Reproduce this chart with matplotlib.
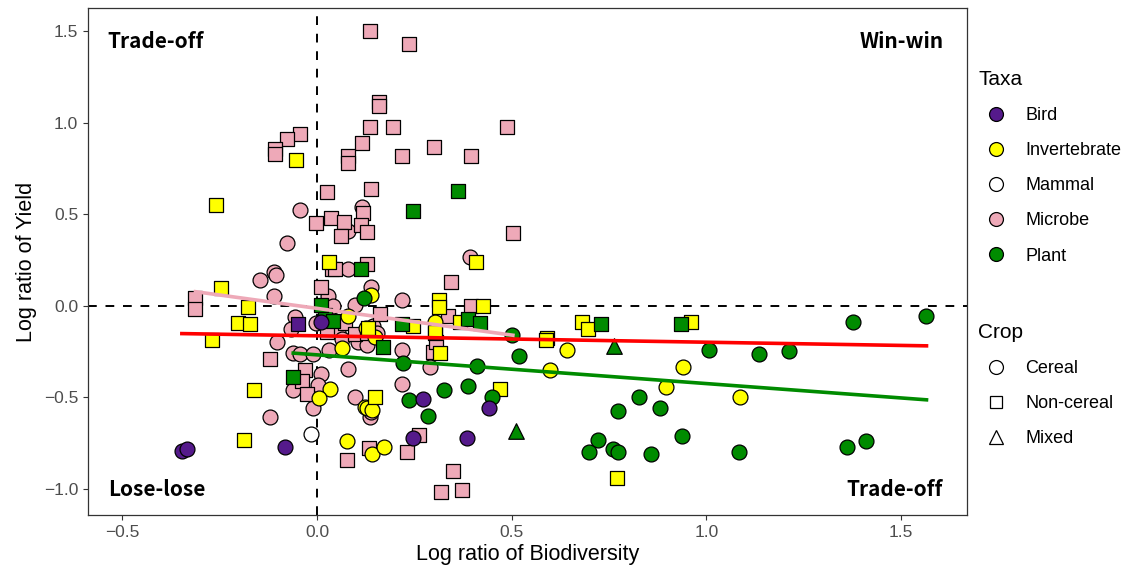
import matplotlib
matplotlib.use("Agg")
import matplotlib.pyplot as plt
from matplotlib.lines import Line2D

plt.rcParams["font.family"] = ["Liberation Sans", "DejaVu Sans"]

# ---- data (x = log ratio biodiversity, y = log ratio yield)
microbe_sq_x = [0.136, 0.235, 0.158, 0.158, 0.135, 0.194, 0.489, 0.116, 0.30, 0.08, 0.08, 0.218,
                0.395, -0.043, -0.077, -0.109, -0.109, 0.026, 0.138, 0.118, -0.002, 0.037, 0.069,
                0.062, 0.112, 0.129, 0.039, 0.045, 0.129, -0.312, -0.312, 0.011, 0.503, 0.344,
                0.395, 0.161, 0.071, 0.337, 0.026, 0.098, 0.128, -0.121, -0.031, -0.039, -0.026,
                0.297, 0.306, 0.263, 0.23, 0.076, 0.134, 0.35, 0.318, 0.373]
microbe_sq_y = [1.50, 1.43, 1.115, 1.09, 0.98, 0.98, 0.98, 0.89, 0.87, 0.82, 0.78, 0.82,
                0.82, 0.94, 0.915, 0.86, 0.83, 0.62, 0.64, 0.51, 0.455, 0.48, 0.46,
                0.385, 0.44, 0.406, 0.20, 0.20, 0.228, 0.042, -0.018, 0.105, 0.40, 0.13,
                0.0, -0.044, -0.095, -0.053, -0.14, -0.153, -0.149, -0.291, -0.35, -0.408, -0.482,
                -0.253, -0.195, -0.705, -0.80, -0.84, -0.778, -0.90, -1.018, -1.005]

microbe_ci_x = [-0.043, 0.116, 0.08, -0.077, 0.08, -0.11, -0.105, -0.146, -0.11, 0.027, 0.138,
                0.097, 0.041, -0.057, -0.066, -0.003, 0.144, 0.393, 0.219, -0.103, 0.055, 0.106,
                0.063, -0.061, -0.044, -0.011, 0.031, 0.08, 0.01, 0.003, -0.061, 0.098, -0.009,
                -0.121, 0.135, 0.139, 0.128, 0.217, 0.29, 0.217, 0.153]
microbe_ci_y = [0.525, 0.54, 0.41, 0.343, 0.204, 0.184, 0.17, 0.142, 0.055, 0.055, 0.105,
                0.005, 0.0, -0.058, -0.127, -0.091, -0.107, 0.27, 0.033, -0.195, -0.14, -0.195,
                -0.182, -0.255, -0.264, -0.264, -0.24, -0.344, -0.372, -0.432, -0.459, -0.496, -0.559,
                -0.608, -0.605, -0.578, -0.213, -0.24, -0.332, -0.428, -0.149]

invert_sq_x = [-0.053, -0.259, 0.030, 0.407, -0.247, -0.177, -0.203, -0.173, 0.312, 0.312, 0.425,
               0.246, 0.303, 0.59, 0.367, -0.27, -0.163, 0.15, -0.187, 0.47, 0.68, 0.697, 0.96,
               0.588, 0.77, 0.316, 0.303, 0.131]
invert_sq_y = [0.80, 0.55, 0.242, 0.24, 0.097, -0.007, -0.091, -0.10, 0.033, -0.007, 0.0,
               -0.109, -0.149, -0.177, -0.086, -0.186, -0.459, -0.495, -0.732, -0.454, -0.089, -0.126, -0.089,
               -0.186, -0.94, -0.259, -0.14, -0.12]

invert_ci_x = [0.08, 0.139, 0.303, 0.063, 0.033, 0.005, 0.123, 0.077, 0.141, 0.172, 0.128, 0.141,
               0.597, 0.641, 0.941, 0.895, 1.087, 0.127, 0.149]
invert_ci_y = [-0.053, 0.06, -0.086, -0.228, -0.455, -0.505, -0.552, -0.736, -0.806, -0.772, -0.555, -0.57,
               -0.35, -0.24, -0.335, -0.444, -0.50, -0.122, -0.168]

plant_sq_x = [0.363, 0.246, 0.112, 0.021, 0.041, 0.01, 0.217, 0.389, 0.419, 0.17, -0.061, 0.728, 0.934]
plant_sq_y = [0.63, 0.52, 0.204, -0.049, -0.08, 0.005, -0.098, -0.073, -0.095, -0.226, -0.389, -0.098, -0.098]

plant_ci_x = [0.121, 0.50, 0.222, 0.41, 0.519, 0.235, 0.326, 0.389, 0.449, 0.286, 1.007, 1.134,
              1.213, 1.375, 1.565, 0.827, 0.772, 0.881, 0.722, 0.699, 0.761, 0.772, 0.857, 0.936,
              1.084, 1.36, 1.409]
plant_ci_y = [0.042, -0.158, -0.312, -0.328, -0.272, -0.516, -0.459, -0.435, -0.496, -0.60, -0.24, -0.262,
              -0.244, -0.086, -0.053, -0.50, -0.572, -0.559, -0.732, -0.796, -0.781, -0.80, -0.809, -0.71,
              -0.80, -0.772, -0.738]

plant_tri_x = [0.511, 0.763]
plant_tri_y = [-0.683, -0.219]

bird_ci_x = [-0.347, -0.334, -0.083, 0.273, 0.442, 0.246, 0.384, 0.01]
bird_ci_y = [-0.792, -0.78, -0.772, -0.508, -0.559, -0.723, -0.72, -0.09]
bird_sq_x = [-0.049]
bird_sq_y = [-0.098]

mammal_ci_x = [-0.015]
mammal_ci_y = [-0.70]

# fitted lines: (intercept, slope)
fit_all = (-0.163, -0.035)
fit_plant = (-0.267, -0.157)
fit_microbe = (-0.013, -0.292)

taxa = ["Bird", "Invertebrate", "Mammal", "Microbe", "Plant"]
taxa_colors = ["#551A8B", "#FFFF00", "#FFFFFF", "#EEA9B8", "#008B00"]
crops = ["Cereal", "Non-cereal", "Mixed"]
crop_markers = ["o", "s", "^"]

col = dict(zip(taxa, taxa_colors))
mk = dict(zip(crops, crop_markers))

fig = plt.figure(figsize=(11.27, 5.72), dpi=100)
ax = fig.add_axes([88 / 1127, 1 - 515 / 572, (967 - 88) / 1127, (515 - 8) / 572])

ax.axvline(0, color="black", lw=1.4, ls=(0, (4.5, 4.5)), zorder=1)
ax.axhline(0, color="black", lw=1.4, ls=(0, (4.5, 4.5)), zorder=1)

groups = [
    (microbe_ci_x, microbe_ci_y, "Microbe", "Cereal"),
    (microbe_sq_x, microbe_sq_y, "Microbe", "Non-cereal"),
    (invert_ci_x, invert_ci_y, "Invertebrate", "Cereal"),
    (invert_sq_x, invert_sq_y, "Invertebrate", "Non-cereal"),
    (plant_sq_x, plant_sq_y, "Plant", "Non-cereal"),
    (plant_ci_x, plant_ci_y, "Plant", "Cereal"),
    (plant_tri_x, plant_tri_y, "Plant", "Mixed"),
    (bird_sq_x, bird_sq_y, "Bird", "Non-cereal"),
    (bird_ci_x, bird_ci_y, "Bird", "Cereal"),
    (mammal_ci_x, mammal_ci_y, "Mammal", "Cereal"),
]
for gx, gy, t, c in groups:
    size = {"o": 115, "s": 90, "^": 125}[mk[c]]
    ax.scatter(gx, gy, s=size, marker=mk[c], facecolor=col[t], edgecolor="black",
               linewidth=0.9, zorder=3)


def draw_fit(fit, xs, color):
    x0, x1 = min(xs), max(xs)
    ax.plot([x0, x1], [fit[0] + fit[1] * x0, fit[0] + fit[1] * x1], color=color, lw=2.6, zorder=4)


all_x = [v for g in groups for v in g[0]]
draw_fit(fit_all, all_x, "#FF0000")
draw_fit(fit_plant, plant_ci_x + plant_sq_x + plant_tri_x, "#008B00")
draw_fit(fit_microbe, microbe_ci_x + microbe_sq_x, "#EEA9B8")

ax.set_xlim(-0.588, 1.669)
ax.set_ylim(-1.142, 1.628)
ax.set_xticks([-0.5, 0, 0.5, 1.0, 1.5])
ax.set_yticks([-1.0, -0.5, 0, 0.5, 1.0, 1.5])
ax.set_xticklabels(["\u22120.5", "0.0", "0.5", "1.0", "1.5"])
ax.set_yticklabels(["\u22121.0", "\u22120.5", "0.0", "0.5", "1.0", "1.5"])
ax.tick_params(colors="#333333", labelcolor="#4D4D4D", labelsize=12.5, length=3.5, width=0.8)
for s in ax.spines.values():
    s.set_color("#333333")
    s.set_linewidth(0.9)
ax.set_xlabel("Log ratio of Biodiversity", fontsize=15.5, labelpad=3)
ax.set_ylabel("Log ratio of Yield", fontsize=15.5, labelpad=5)

qfont = dict(family=["Noto Sans CJK SC", "DejaVu Sans"], fontsize=15, fontweight="bold")
ax.text(-0.537, 1.445, "Trade-off", ha="left", va="center", **qfont)
ax.text(1.608, 1.445, "Win-win", ha="right", va="center", **qfont)
ax.text(-0.537, -1.005, "Lose-lose", ha="left", va="center", **qfont)
ax.text(1.608, -1.005, "Trade-off", ha="right", va="center", **qfont)

# legends
taxa_handles = [Line2D([], [], ls="", marker="o", markersize=10, markerfacecolor=c,
                       markeredgecolor="black", markeredgewidth=0.9) for c in taxa_colors]
crop_handles = [Line2D([], [], ls="", marker=m, markersize=10 if m != "s" else 9,
                       markerfacecolor="white", markeredgecolor="black", markeredgewidth=0.9)
                for m in crop_markers]
leg1 = fig.legend(taxa_handles, taxa, title="Taxa", loc="upper left",
                  bbox_to_anchor=(962 / 1127, 1 - 54 / 572), frameon=False, fontsize=13,
                  title_fontsize=15, labelspacing=1.0, handletextpad=0.6, alignment="left")
leg2 = fig.legend(crop_handles, crops, title="Crop", loc="upper left",
                  bbox_to_anchor=(962 / 1127, 1 - 307 / 572), frameon=False, fontsize=13,
                  title_fontsize=15, labelspacing=1.0, handletextpad=0.6, alignment="left")

fig.savefig("out.png", dpi=100)
